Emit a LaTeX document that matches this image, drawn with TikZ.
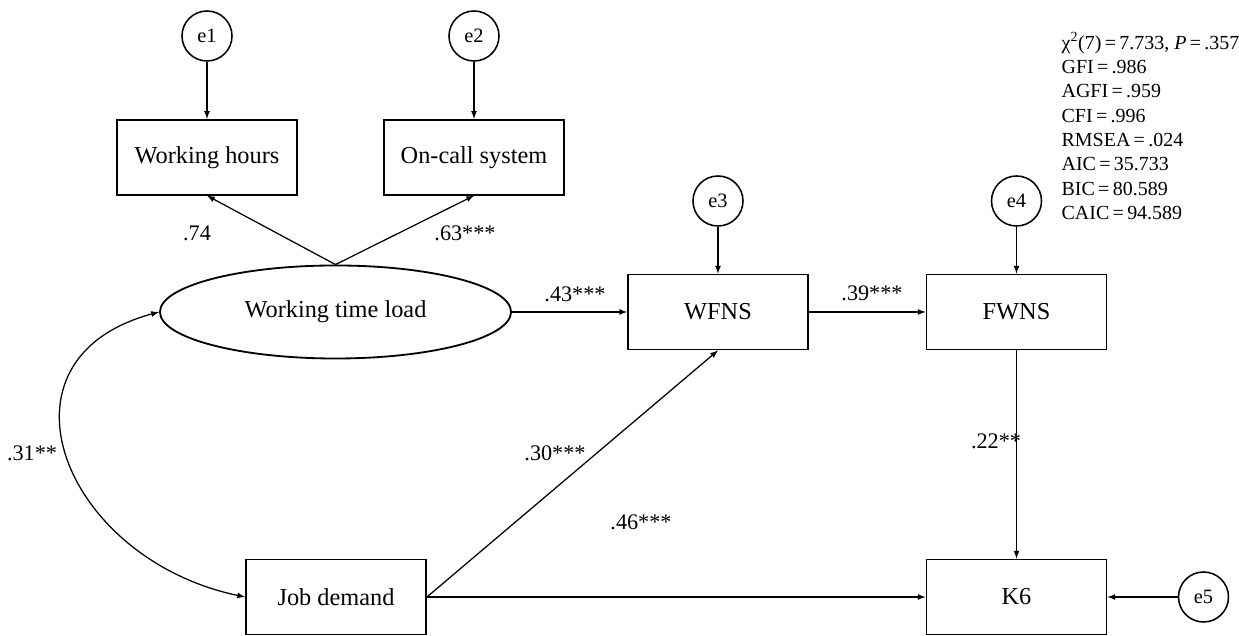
\documentclass[tikz,border=0pt]{standalone}
\usepackage{fontspec}
\setmainfont{Liberation Serif}
\usetikzlibrary{shapes.geometric}
\usetikzlibrary{positioning}
\usetikzlibrary{arrows}

\begin{document}
\begin{tikzpicture}[x=0.025cm,y=0.025cm,>=latex,line width=0.9pt,
	obs node/.style={rectangle,draw,line width=1.3pt,minimum width=4.5cm,
		minimum height=1.875cm,font=\fontsize{17.3}{20}\selectfont},
	lat node/.style={ellipse,draw,line width=1.3pt,inner sep=0pt,
		minimum width=8.775cm,minimum height=2.325cm,font=\fontsize{17.3}{20}\selectfont},
	err node/.style={circle,draw,line width=1.1pt,inner sep=0pt,
		minimum size=1.25cm,font=\fontsize{14.5}{16}\selectfont},
	coef/.style={font=\fontsize{15.8}{18}\selectfont}]

	\useasboundingbox (0,0) rectangle (1239,636);

	\node[err node] (e1) at (207,600) {e1};
	\node[obs node] (wh) [below=1.425cm of e1] {Working hours};
	\node[err node] (e2) at (474,600) {e2};
	\node[obs node] (oc) [below=1.425cm of e2] {On-call system};
	\node[lat node] (wtl) at (335.5,324) {Working time load};
	\node[obs node] (wfns) at (718,324) {WFNS};
	\node[err node] (e3) at (718,435) {e3};
	\node[obs node] (fwns) at (1016.5,324) {FWNS};
	\node[err node] (e4) at (1016.5,435) {e4};
	\node[obs node] (jd) at (336,39) {Job demand};
	\node[obs node] (k6) at (1016.5,39) {K6};
	\node[err node] (e5) at (1203.5,39) {e5};

	\path[->]
	(e1) edge (wh)
	(e2) edge (oc)
	(wtl.north) edge (wh.south)
	(wtl.north) edge (oc.south)
	(wtl) edge (wfns)
	(e3) edge (wfns)
	(wfns) edge (fwns)
	(e4) edge (fwns)
	(jd.east) edge (wfns.south)
	(jd) edge (k6)
	(fwns) edge (k6)
	(e5) edge (k6);

	\draw[<->] (wtl.west) .. controls +(-175,-47) and +(-182,38) .. (jd.west);

	% path coefficients
	\node[coef] (c1) at (197,403) {.74};
	\node[coef] (c2) at (465,403) {.63***};
	\node[coef] (c3) at (575,342) {.43***};
	\node[coef] (c4) at (872,343) {.39***};
	\node[coef] (c5) at (555,183) {.30***};
	\node[coef] (c6) at (996,195) {.22**};
	\node[coef] (c7) at (641,114) {.46***};
	\node[coef] (c8) at (32,183) {.31**};

	% fit indices
	\node[anchor=north west,inner sep=0pt,align=left,
		font=\fontsize{14.2}{17.3}\selectfont] (fit) at (1061,604)
	{χ\textsuperscript{2}(7)\,=\,7.733, \textit{P}\,=\,.357\\
		GFI\,=\,.986\\
		AGFI\,=\,.959\\
		CFI\,=\,.996\\
		RMSEA\,=\,.024\\
		AIC\,=\,35.733\\
		BIC\,=\,80.589\\
		CAIC\,=\,94.589};
\end{tikzpicture}
\end{document}
